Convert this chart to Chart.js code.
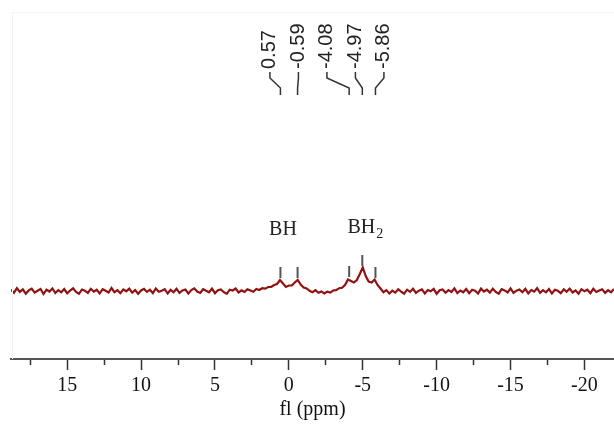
<!DOCTYPE html>
<html>
<head>
<meta charset="utf-8">
<script src="https://cdn.jsdelivr.net/npm/chart.js@4.4.0/dist/chart.umd.min.js"></script>
<style>
  html, body { margin: 0; padding: 0; background: #fff; }
  #wrap { width: 614px; height: 425px; }
</style>
</head>
<body>
<div id="wrap"><canvas id="nmr" width="614" height="425"></canvas></div>
<script>
// chemical shift grid (ppm), left edge to right edge
const ppmStart = 18.8;
const ppmStep = -0.2;

// trace intensity, one value per grid point
const intensity = [
  1.2, -1.8, 2.8, -0.9, 1.6, -2.7, 0.6, 2.4, -1.6, 0.3,
  2.1, -3.0, 1.3, -0.5, 2.5, -2.1, 0.9, -1.3, 1.9, -2.4,
  0.5, 2.7, -1.0, -2.8, 1.5, 0.3, -1.9, 2.2, -0.6, 1.3,
  -2.5, 1.8, 0.2, -1.5, 3.0, -1.2, 0.8, -2.2, 1.6, -0.3,
  2.4, -1.6, 1.0, -2.7, 0.5, 2.1, -0.9, 1.3, -2.1, 2.5,
  -0.8, 0.3, 1.9, -2.5, 1.2, -1.3, 2.2, -1.8, 0.6, 1.5,
  -2.4, 0.9, 2.7, -0.6, -1.9, 1.8, 0.2, -1.3, 2.4, -2.2,
  0.8, 1.6, -1.2, -2.8, 1.3, 0.5, 2.5, -1.5, 0.6, -0.9,
  1.8, 0.5, -0.8, 2.0, 1.0, 2.8, 2.4, 4.0, 4.0, 6.0,
  7.0, 11.0, 7.5, 4.0, 5.5, 5.5, 8.5, 11.0, 6.5, 3.5,
  2.5, 0.2, -1.2, 0.8, -1.8, -0.4, -2.4, -0.6, -1.6, 0.5,
  0.8, 2.8, 3.2, 6.0, 11.5, 10.0, 8.5, 11.0, 17.0, 23.5,
  15.0, 9.5, 8.5, 11.5, 6.0, 2.5, -1.2, 0.9, -2.5, 0.4,
  -1.6, 1.8, -0.6, -2.7, 1.3, -0.9, 2.2, -1.9, 0.3, 1.6,
  -2.4, 1.0, -0.3, 2.1, -2.8, 0.8, 1.5, -1.8, 0.9, -1.0,
  2.7, -2.1, 0.5, -1.3, 1.9, -2.2, 1.2, 0.2, -2.5, 2.4,
  -0.5, 1.3, -1.6, 2.2, -0.9, -2.7, 1.8, 0.6, -1.5, 2.5,
  -1.9, 0.3, 1.5, -1.2, 2.1, -2.4, 0.9, -0.6, 2.8, -1.8,
  0.8, -1.3, 1.9, -2.5, 1.2, 0.2, -2.1, 1.6, -0.8, 2.4,
  -1.5, 0.6, -2.7, 1.8, -0.3, 1.3, -2.2, 2.2, -1.0, 0.5,
  1.6, -1.9, 0.9, -1.3, 2.1
];

// picked peaks
const peakPpm = [0.57, -0.59, -4.08, -4.97, -5.86];
const peakLabels = ['0.57', '-0.59', '-4.08', '-4.97', '-5.86'];
const peakTops = [13, 13, 14, 25, 13];

const xMin = -22;
const xMax = 18.8;
const xTickStep = 2.5;

const points = intensity.map((v, i) => ({ x: +(ppmStart + i * ppmStep).toFixed(2), y: v }));

const annotations = {
  id: 'annotations',
  afterDatasetsDraw(chart) {
    const { ctx } = chart;
    const x = chart.scales.x;
    const y = chart.scales.y;
    ctx.save();

    // faint frame of the original figure
    ctx.strokeStyle = '#f3f3f3';
    ctx.lineWidth = 1;
    ctx.beginPath();
    ctx.moveTo(12.5, 359);
    ctx.lineTo(12.5, 12.5);
    ctx.lineTo(614, 12.5);
    ctx.stroke();

    // peak markers above the trace
    ctx.strokeStyle = '#555';
    ctx.lineWidth = 2;
    peakPpm.forEach((p, i) => {
      const px = x.getPixelForValue(p);
      const py = y.getPixelForValue(peakTops[i]);
      ctx.beginPath();
      ctx.moveTo(px, py);
      ctx.lineTo(px, py - 11);
      ctx.stroke();
    });

    // rotated shift labels with their connectors
    const x0 = x.getPixelForValue(peakPpm[0]) - 10.5;
    ctx.font = '20px "Liberation Sans"';
    ctx.fillStyle = '#222';
    ctx.strokeStyle = '#333';
    ctx.lineWidth = 1.5;
    ctx.textAlign = 'left';
    ctx.textBaseline = 'middle';
    peakLabels.forEach((t, i) => {
      const lx = x0 + i * 28.5;
      const px = x.getPixelForValue(peakPpm[i]);
      ctx.save();
      ctx.translate(lx, 69);
      ctx.rotate(-Math.PI / 2);
      ctx.fillText(t, 0, 0);
      ctx.restore();
      ctx.beginPath();
      ctx.moveTo(lx, 72);
      ctx.lineTo(lx, 78);
      ctx.lineTo(px, 88);
      ctx.lineTo(px, 95);
      ctx.stroke();
    });

    // multiplet names
    ctx.font = '20px "Liberation Serif"';
    ctx.fillStyle = '#222';
    ctx.textBaseline = 'alphabetic';
    ctx.textAlign = 'center';
    ctx.fillText('BH', x.getPixelForValue(0.4), 235);
    const bx = x.getPixelForValue(-4.9);
    ctx.fillText('BH', bx, 233);
    const w = ctx.measureText('BH').width;
    ctx.font = '14px "Liberation Serif"';
    ctx.textAlign = 'left';
    ctx.fillText('2', bx + w / 2 + 1, 238);

    ctx.restore();
  }
};

new Chart(document.getElementById('nmr'), {
  type: 'line',
  data: {
    datasets: [{
      data: points,
      borderColor: '#921212',
      borderWidth: 2.2,
      pointRadius: 0,
      tension: 0,
      fill: false
    }]
  },
  options: {
    responsive: false,
    animation: false,
    layout: { padding: { left: 11, right: 0, top: 100, bottom: 3 } },
    plugins: {
      legend: { display: false },
      tooltip: { enabled: false }
    },
    scales: {
      x: {
        type: 'linear',
        reverse: true,
        min: xMin,
        max: xMax,
        border: { display: true, color: '#555', width: 2 },
        grid: {
          drawOnChartArea: false,
          tickLength: 11,
          tickWidth: 1.5,
          tickColor: '#333',
          tickBorderDash: (c) => (c.tick && c.tick.value % 5 !== 0) ? [5, 40] : []
        },
        ticks: {
          stepSize: xTickStep,
          includeBounds: false,
          autoSkip: false,
          maxRotation: 0,
          padding: 4,
          color: '#111',
          font: { family: 'Liberation Serif', size: 20 },
          callback: (v) => (v % 5 === 0 ? String(v) : '')
        },
        title: {
          display: true,
          text: 'fl (ppm)',
          color: '#111',
          font: { family: 'Liberation Serif', size: 20 },
          padding: { top: -4, bottom: 0 }
        }
      },
      y: { display: false, min: -68, max: 191 }
    }
  },
  plugins: [annotations]
});
</script>
</body>
</html>
